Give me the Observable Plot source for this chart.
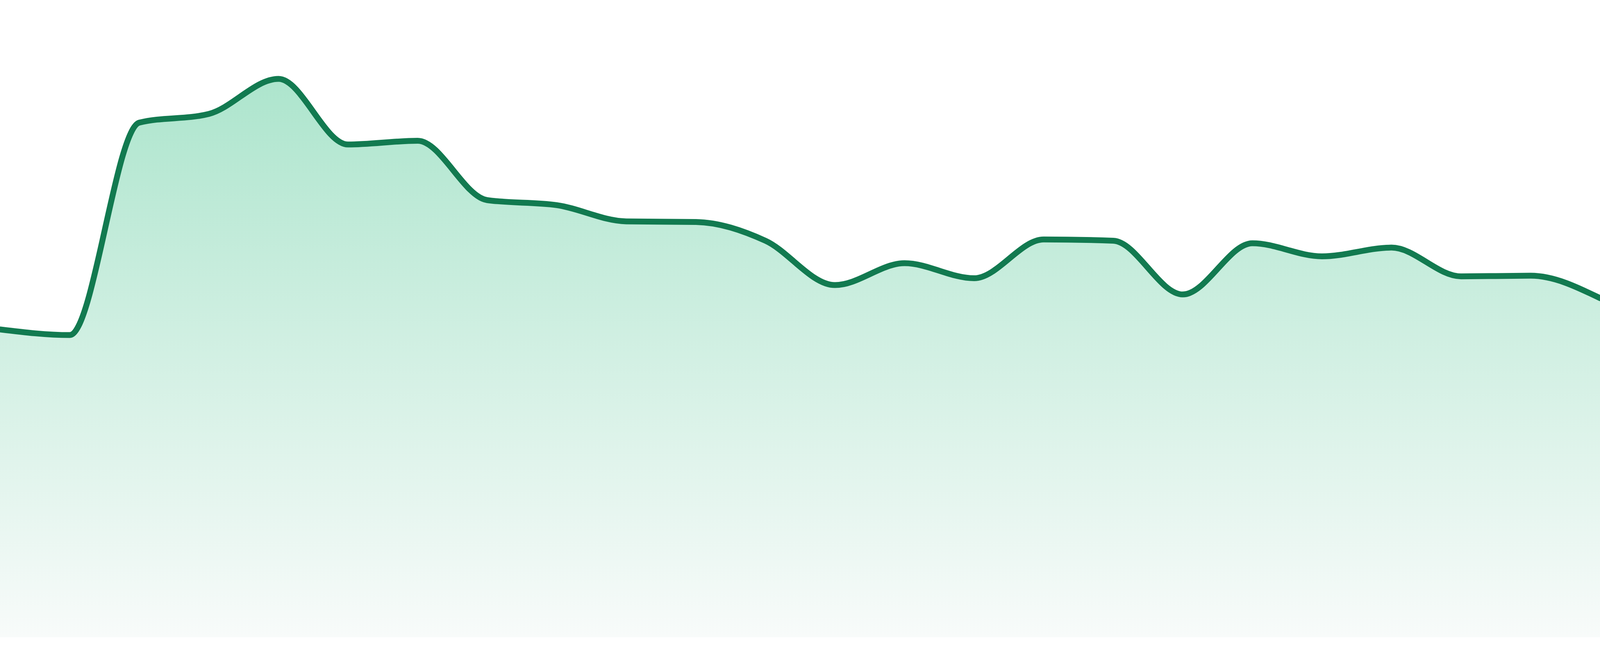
<!DOCTYPE html>
<html>
<head>
<meta charset="utf-8">
<script src="https://cdn.jsdelivr.net/npm/d3@7"></script>
<script src="https://cdn.jsdelivr.net/npm/@observablehq/plot@0.6"></script>
<style>
  html, body { margin: 0; padding: 0; background: #ffffff; overflow: hidden; }
  #chart svg { display: block; max-width: none; }
</style>
</head>
<body>
<div id="chart"></div>
<script>
// Categories (evenly spaced periods) and series values
const periods = [0, 1, 2, 3, 4, 5, 6, 7, 8, 9, 10, 11, 12, 13, 14, 15, 16, 17, 18, 19, 20, 21, 22, 23];
const values = [49.3, 48.4, 82.4, 83.8, 89.4, 78.9, 79.5, 70.0, 69.2, 66.6, 66.5, 63.5,
                56.4, 59.9, 57.5, 63.7, 63.5, 54.9, 63.1, 61.0, 62.4, 57.8, 57.9, 54.3];

const data = periods.map((p, i) => ({period: p, value: values[i]}));

// Fill the whole viewport, as the reference chart fills its frame
const W = document.documentElement.clientWidth || window.innerWidth || 4800;
const H = window.innerHeight || document.documentElement.clientHeight || 1680;
const k = H / 1680;

const gradientDefs = () => {
  const defs = d3.create("svg:defs");
  const g = defs.append("linearGradient")
    .attr("id", "areaFill")
    .attr("x1", 0).attr("y1", 0).attr("x2", 0).attr("y2", 1);
  g.append("stop").attr("offset", "0%").attr("stop-color", "#ade5cd");
  g.append("stop").attr("offset", "100%").attr("stop-color", "#f8fbfa");
  return defs.node();
};

const chart = Plot.plot({
  width: W,
  height: H,
  marginTop: 32 * k,
  marginBottom: 48 * k,
  marginLeft: 0,
  marginRight: 0,
  x: {domain: [0, 23], axis: null},
  y: {domain: [0, 100], axis: null},
  marks: [
    gradientDefs,
    Plot.areaY(data, {x: "period", y: "value", curve: "monotone-x", fill: "url(#areaFill)"}),
    Plot.lineY(data, {x: "period", y: "value", curve: "monotone-x", stroke: "#127a50", strokeWidth: 15 * k})
  ]
});
document.getElementById("chart").appendChild(chart);
</script>
</body>
</html>
